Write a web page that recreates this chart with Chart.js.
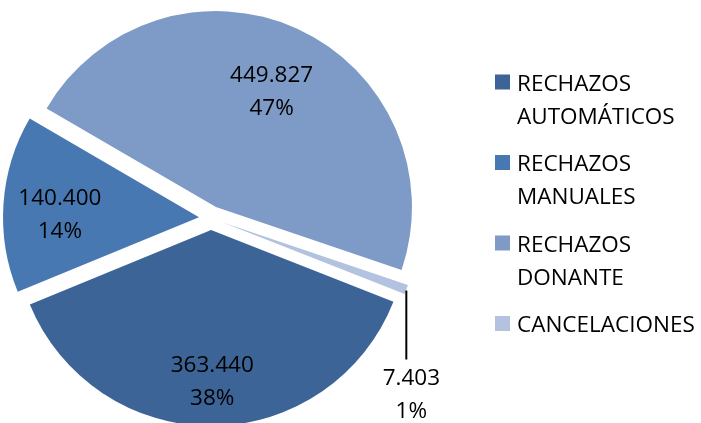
<!DOCTYPE html>
<html>
<head>
<meta charset="utf-8">
<script src="https://cdn.jsdelivr.net/npm/chart.js@4.4.1/dist/chart.umd.min.js"></script>
<style>
  html, body { margin: 0; padding: 0; background: #fff; }
  #wrap { width: 701px; height: 423px; position: relative; }
</style>
</head>
<body>
<div id="wrap"><canvas id="pie"></canvas></div>
<script>
// data
const categories = [['RECHAZOS', 'AUTOMÁTICOS'], ['RECHAZOS', 'MANUALES'], ['RECHAZOS', 'DONANTE'], ['CANCELACIONES']];
const values = [363440, 140400, 449827, 7403];
const percentLabels = ['38%', '14%', '47%', '1%'];

const colors = ['#3D6497', '#4878B2', '#7D9BC6', '#B3C2DF'];
const FONT = '22.5px "Open Sans"';

// 363440 -> "363.440"
function fmt(v) {
  return String(v).replace(/\B(?=(\d{3})+(?!\d))/g, '.');
}

// chart.js grows exploded slices and trims their outer edge;
// undo that so each slice is only shifted out (like excel)
const baseDraw = Chart.ArcElement.prototype.draw;
Chart.ArcElement.prototype.draw = function (ctx) {
  const off = (this.options.offset || 0) / 4;
  if (!off) return baseDraw.call(this, ctx);
  const ro = off * (1 - Math.sin(Math.min(Math.PI, this.circumference)));
  const R = this.outerRadius, s = this.startAngle, e = this.endAngle;
  const d = ro / (2 * Math.PI * R);
  this.outerRadius = R - ro;
  this.startAngle = s - d;
  this.endAngle = e + d;
  baseDraw.call(this, ctx);
  this.outerRadius = R;
  this.startAngle = s;
  this.endAngle = e;
};

// where the inside labels sit: fraction of radius, and a small angle nudge (deg)
const labelRadius = [0.77, 0.71, 0.66];
const labelNudge = [0, -2.5, 1];

const sliceLabels = {
  id: 'sliceLabels',
  afterDatasetsDraw(chart) {
    const ctx = chart.ctx;
    const meta = chart.getDatasetMeta(0);
    ctx.save();
    ctx.font = FONT;
    ctx.fillStyle = '#000';
    ctx.textAlign = 'center';
    ctx.textBaseline = 'alphabetic';
    meta.data.forEach((arc, i) => {
      const p = arc.getProps(['x', 'y', 'startAngle', 'endAngle', 'outerRadius'], true);
      const mid = (p.startAngle + p.endAngle) / 2;
      const off = (arc.options.offset || 0) / 4; // chart.js shifts arcs by offset/4
      const cx = p.x + Math.cos(mid) * off;
      const cy = p.y + Math.sin(mid) * off;
      let lx, ly;
      if (i < labelRadius.length) {
        const a = mid + labelNudge[i] * Math.PI / 180;
        lx = cx + Math.cos(a) * p.outerRadius * labelRadius[i];
        ly = cy + Math.sin(a) * p.outerRadius * labelRadius[i];
      } else {
        // small slice: label below with a vertical leader line
        const ex = cx + Math.cos(mid) * p.outerRadius;
        const ey = cy + Math.sin(mid) * p.outerRadius;
        ctx.strokeStyle = '#000';
        ctx.lineWidth = 2;
        ctx.beginPath();
        ctx.moveTo(ex, ey + 1);
        ctx.lineTo(ex, ey + 70);
        ctx.stroke();
        lx = ex + 5;
        ly = ey + 104;
      }
      ctx.fillText(fmt(values[i]), lx, ly - 16.5 + 8);
      ctx.fillText(percentLabels[i], lx, ly + 16.5 + 8);
    });
    ctx.restore();
  }
};

// legend on the right, two-line labels
const sideLegend = {
  id: 'sideLegend',
  afterDraw(chart) {
    const ctx = chart.ctx;
    ctx.save();
    ctx.font = FONT;
    ctx.textAlign = 'left';
    ctx.textBaseline = 'alphabetic';
    categories.forEach((lines, i) => {
      const base = 90.5 + i * 80.5;
      ctx.fillStyle = colors[i];
      ctx.fillRect(495, base - 16, 15, 15);
      ctx.fillStyle = '#000';
      lines.forEach((t, j) => ctx.fillText(t, 517, base + j * 33));
    });
    ctx.restore();
  }
};

new Chart(document.getElementById('pie'), {
  type: 'pie',
  data: {
    labels: categories,
    datasets: [{
      data: values,
      backgroundColor: colors,
      borderWidth: 0,
      offset: 48,
      clip: false
    }]
  },
  options: {
    responsive: true,
    maintainAspectRatio: false,
    animation: false,
    events: [],
    rotation: 111.5,
    radius: 196,
    layout: { padding: { left: 0, right: 279, top: 13, bottom: 0 } },
    plugins: {
      legend: { display: false },
      tooltip: { enabled: false }
    }
  },
  plugins: [sliceLabels, sideLegend]
});
</script>
</body>
</html>
